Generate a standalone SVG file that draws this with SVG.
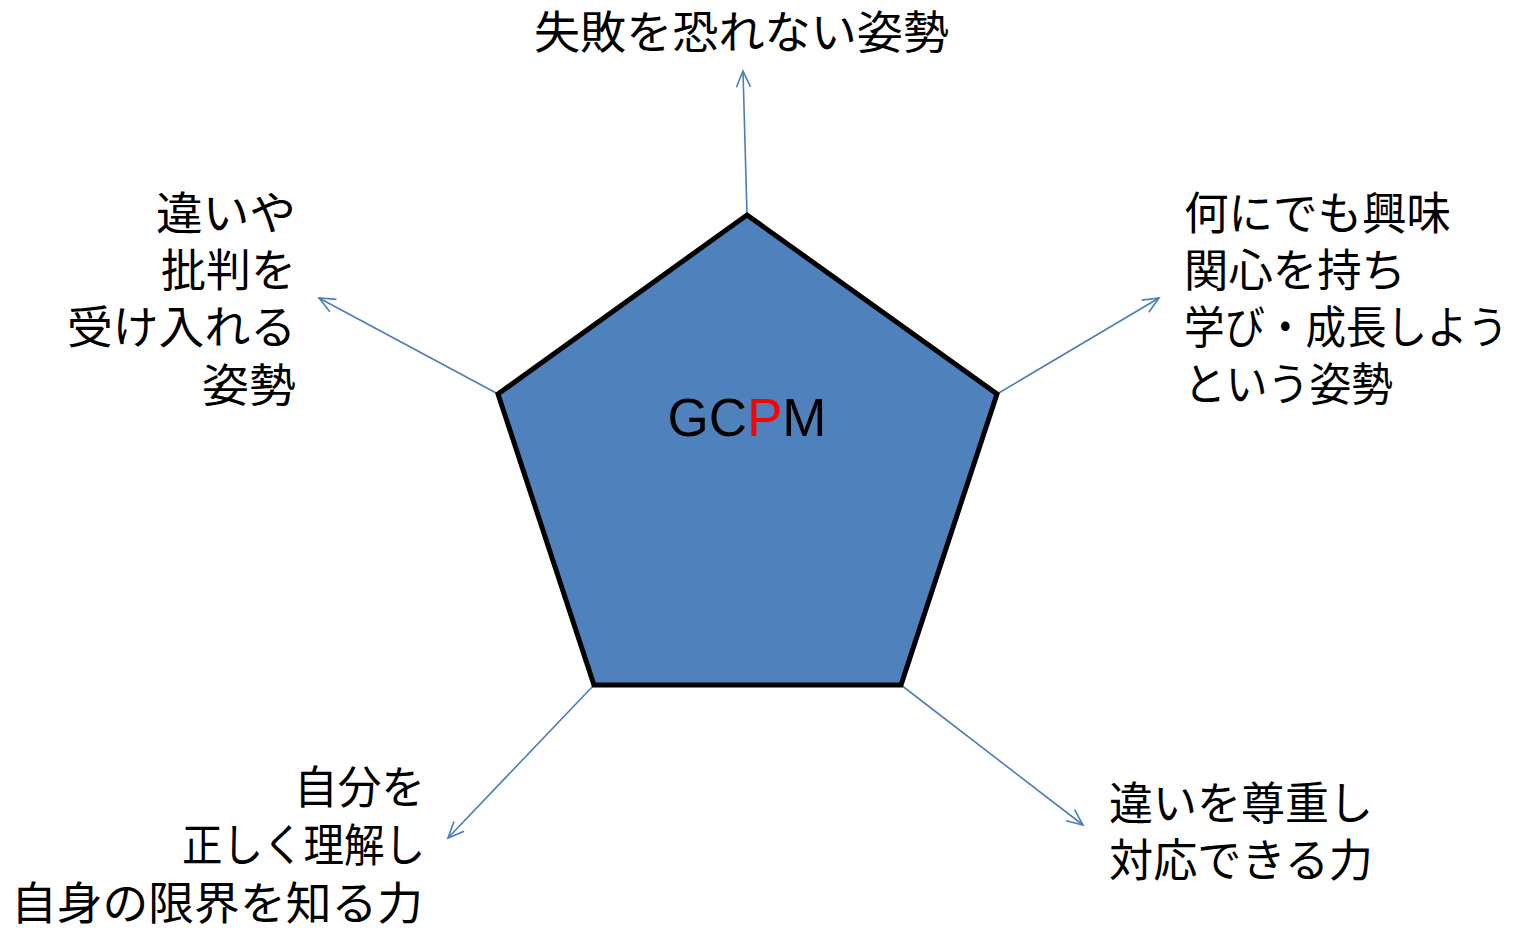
<svg xmlns="http://www.w3.org/2000/svg" width="1517" height="929" viewBox="0 0 1517 929">
<defs>
<marker id="arr" viewBox="0 0 20 20" refX="18" refY="10" markerWidth="20" markerHeight="20" markerUnits="userSpaceOnUse" orient="auto">
<path d="M2,3 L18,10 L2,17" fill="none" stroke="#4A7EBB" stroke-width="1.6"/>
</marker>
<style>
.lbl{font-family:"Noto Sans CJK JP","Noto Sans CJK SC",sans-serif;font-size:45px;fill:#000}
.conn{stroke:#4A7EBB;stroke-width:1.6;fill:none;marker-end:url(#arr)}
</style>
</defs>
<rect width="1517" height="929" fill="#fff"/>
<g id="connectors">
<line class="conn" x1="747" y1="215" x2="743" y2="71"/>
<line class="conn" x1="498" y1="394" x2="319" y2="298"/>
<line class="conn" x1="997" y1="394" x2="1159" y2="298"/>
<line class="conn" x1="594" y1="685" x2="448" y2="838"/>
<line class="conn" x1="901" y1="685" x2="1083" y2="825"/>
</g>
<g id="pentagon">
<polygon points="747,215 997,394 901,685 594,685 498,394" fill="#4F81BD" stroke="#000" stroke-width="5" stroke-linejoin="miter"/>
<text x="747" y="436" text-anchor="middle" font-family="Liberation Sans, Arial, sans-serif" font-size="53" fill="#000">GC<tspan fill="#FF0000">P</tspan>M</text>
</g>
<g id="node-top">
<text class="lbl" x="534" y="49" textLength="415" lengthAdjust="spacingAndGlyphs">失敗を恐れない姿勢</text>
</g>
<g id="node-upper-left">
<text class="lbl" x="156" y="230" textLength="140" lengthAdjust="spacingAndGlyphs">違いや</text>
<text class="lbl" x="161" y="287" textLength="135" lengthAdjust="spacingAndGlyphs">批判を</text>
<text class="lbl" x="67" y="344" textLength="229" lengthAdjust="spacingAndGlyphs">受け入れる</text>
<text class="lbl" x="202" y="402" textLength="94" lengthAdjust="spacingAndGlyphs">姿勢</text>
</g>
<g id="node-upper-right">
<text class="lbl" x="1184" y="230" textLength="267" lengthAdjust="spacingAndGlyphs">何にでも興味</text>
<text class="lbl" x="1184" y="287" textLength="222" lengthAdjust="spacingAndGlyphs">関心を持ち</text>
<text class="lbl" x="1184" y="344" textLength="324" lengthAdjust="spacingAndGlyphs">学び・成長しよう</text>
<text class="lbl" x="1184" y="401" textLength="209" lengthAdjust="spacingAndGlyphs">という姿勢</text>
</g>
<g id="node-lower-left">
<text class="lbl" x="294" y="804" textLength="131" lengthAdjust="spacingAndGlyphs">自分を</text>
<text class="lbl" x="182" y="862" textLength="243" lengthAdjust="spacingAndGlyphs">正しく理解し</text>
<text class="lbl" x="11" y="920" textLength="412" lengthAdjust="spacingAndGlyphs">自身の限界を知る力</text>
</g>
<g id="node-lower-right">
<text class="lbl" x="1109" y="820" textLength="264" lengthAdjust="spacingAndGlyphs">違いを尊重し</text>
<text class="lbl" x="1109" y="877" textLength="264" lengthAdjust="spacingAndGlyphs">対応できる力</text>
</g>
</svg>
